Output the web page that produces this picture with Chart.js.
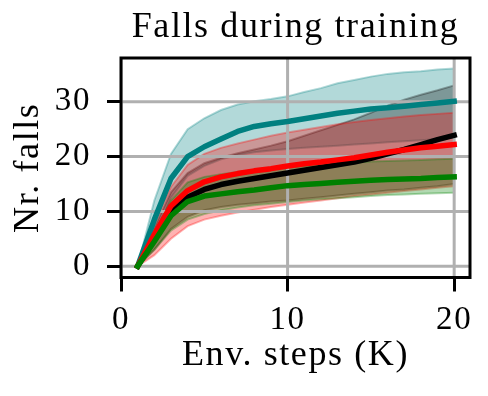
<!DOCTYPE html>
<html>
<head>
<meta charset="utf-8">
<script src="https://cdn.jsdelivr.net/npm/chart.js@4.4.1/dist/chart.umd.min.js"></script>
<style>
  html, body { margin: 0; padding: 0; background: #fff; }
  #c { display: block; }
</style>
</head>
<body>
<canvas id="c" width="488" height="396"></canvas>
<script>
// ---- data ----
const steps = [1, 2, 3, 4, 5, 6, 7, 8, 9, 10, 11, 12, 13, 14, 15, 16, 17, 18, 19, 20];
const xTicks = [0, 10, 20];
const yTicks = [0, 10, 20, 30];

const tealMean  = [0, 8.5, 16, 20, 21.8, 23.2, 24.6, 25.5, 26.0, 26.4, 26.9, 27.4, 27.9, 28.3, 28.7, 28.9, 29.2, 29.5, 29.8, 30.1];
const tealUpper = [0, 12, 20.5, 25, 27, 28.5, 29.5, 30.1, 30.5, 31.0, 31.8, 32.5, 33.4, 34.0, 34.6, 35.1, 35.4, 35.6, 35.9, 36.1];
const tealLower = [0, 5, 12.5, 16.5, 18.3, 19.5, 20.3, 20.8, 21.1, 21.4, 21.6, 21.8, 22.0, 22.2, 22.4, 22.6, 22.8, 23.0, 23.2, 23.5];

const blackMean  = [0, 5, 10, 12.6, 14.0, 14.9, 15.5, 16.0, 16.5, 17.0, 17.5, 18.0, 18.5, 19.0, 19.7, 20.5, 21.3, 22.2, 23.1, 23.9];
const blackUpper = [0, 7, 13.5, 17, 18.8, 19.8, 20.6, 21.3, 22.0, 22.8, 23.8, 24.8, 25.8, 26.8, 28.0, 29.3, 30.4, 31.3, 32.1, 33.0];
const blackLower = [0, 3, 6.8, 9, 10.2, 10.8, 11.2, 11.5, 11.8, 12.0, 12.3, 12.6, 12.9, 13.2, 13.5, 13.8, 14.0, 14.3, 14.6, 15.0];

const redMean  = [0, 5.8, 11, 13.8, 15.4, 16.3, 16.9, 17.4, 17.8, 18.3, 18.7, 19.0, 19.4, 19.8, 20.3, 20.8, 21.2, 21.6, 21.9, 22.2];
const redUpper = [0, 8, 14.5, 18.5, 20.5, 21.6, 22.4, 23.1, 23.8, 24.4, 24.9, 25.4, 25.9, 26.3, 26.7, 27.0, 27.3, 27.6, 27.8, 28.0];
const redLower = [0, 2, 5, 7.3, 8.5, 9.2, 9.8, 10.3, 10.8, 11.2, 11.6, 12.0, 12.4, 12.8, 13.1, 13.4, 13.7, 14.0, 14.3, 14.6];

const greenMean  = [0, 4.5, 9.2, 11.8, 12.8, 13.2, 13.6, 13.9, 14.3, 14.7, 14.9, 15.1, 15.3, 15.5, 15.7, 15.8, 15.9, 16.0, 16.2, 16.3];
const greenUpper = [0, 6, 12, 15.3, 16.3, 16.8, 17.2, 17.5, 17.8, 18.0, 18.3, 18.5, 18.7, 18.9, 19.1, 19.2, 19.3, 19.4, 19.5, 19.6];
const greenLower = [0, 3, 6.5, 8.5, 9.5, 10.2, 10.7, 11.1, 11.4, 11.7, 12.0, 12.2, 12.4, 12.6, 12.8, 13.0, 13.1, 13.2, 13.3, 13.4];

// ---- build datasets ----
const FONT = "'Liberation Serif', 'Times New Roman', serif";
const pts = arr => steps.map((x, i) => ({ x: x, y: arr[i] }));

const series = [
  { rgb: '0,128,128', mean: tealMean,  up: tealUpper,  lo: tealLower,  lineOrder: 3, bandOrder: 13 },
  { rgb: '0,0,0',     mean: blackMean, up: blackUpper, lo: blackLower, lineOrder: 2, bandOrder: 12 },
  { rgb: '255,0,0',   mean: redMean,   up: redUpper,   lo: redLower,   lineOrder: 1, bandOrder: 11 },
  { rgb: '0,128,0',   mean: greenMean, up: greenUpper, lo: greenLower, lineOrder: 0, bandOrder: 10 }
];

const datasets = [];
series.forEach(s => {
  datasets.push({
    data: pts(s.up), order: s.bandOrder, fill: '+1',
    backgroundColor: 'rgba(' + s.rgb + ',0.3)', borderColor: 'rgba(' + s.rgb + ',0.3)',
    borderWidth: 2, pointRadius: 0, tension: 0
  });
  datasets.push({
    data: pts(s.lo), order: s.bandOrder, fill: false,
    borderColor: 'rgba(' + s.rgb + ',0.3)', borderWidth: 2, pointRadius: 0, tension: 0
  });
});
series.forEach(s => {
  datasets.push({
    data: pts(s.mean), order: s.lineOrder, fill: false, isMean: true,
    borderColor: 'rgb(' + s.rgb + ')', borderWidth: 5.5, pointRadius: 0, tension: 0,
    borderJoinStyle: 'round', borderCapStyle: 'square'
  });
});

// grid drawn above the bands but below the lines; full box of spines on top
const frame = {
  id: 'frame',
  beforeDraw(chart) { chart.$gridDone = false; chart.ctx.letterSpacing = '1.6px'; },
  beforeDatasetDraw(chart, args) {
    if (chart.$gridDone) return;
    const ds = chart.data.datasets[args.index];
    if (!ds.isMean) return;
    chart.$gridDone = true;
    const { ctx, chartArea: a, scales: { x, y } } = chart;
    ctx.save();
    ctx.beginPath();
    ctx.rect(a.left, a.top, a.right - a.left, a.bottom - a.top);
    ctx.clip();
    ctx.strokeStyle = '#b0b0b0';
    ctx.lineWidth = 3;
    xTicks.forEach(v => {
      const p = x.getPixelForValue(v);
      ctx.beginPath(); ctx.moveTo(p, a.top); ctx.lineTo(p, a.bottom); ctx.stroke();
    });
    yTicks.forEach(v => {
      const p = y.getPixelForValue(v);
      ctx.beginPath(); ctx.moveTo(a.left, p); ctx.lineTo(a.right, p); ctx.stroke();
    });
    ctx.restore();
  },
  afterDatasetsDraw(chart) {
    const { ctx, chartArea: a } = chart;
    ctx.save();
    ctx.strokeStyle = '#000';
    ctx.lineWidth = 3;
    ctx.strokeRect(a.left, a.top, a.right - a.left, a.bottom - a.top);
    ctx.restore();
  }
};

const tickGrid = {
  drawOnChartArea: false, drawTicks: true, tickLength: 14, tickWidth: 3, tickColor: '#000'
};

new Chart(document.getElementById('c'), {
  type: 'line',
  data: { datasets: datasets },
  options: {
    responsive: false,
    animation: false,
    devicePixelRatio: 1,
    layout: { padding: { left: 0, right: 18, top: 0, bottom: 0 } },
    plugins: {
      legend: { display: false },
      tooltip: { enabled: false },
      title: {
        display: true, fullSize: false, text: 'Falls during training', color: '#000',
        font: { family: FONT, size: 36, weight: 'normal', lineHeight: 1.2 },
        padding: { top: 5.5, bottom: 9.3 }
      }
    },
    scales: {
      x: {
        type: 'linear', min: 0, max: 20.95,
        afterBuildTicks: a => { a.ticks = xTicks.map(v => ({ value: v })); },
        afterFit: s => { s.height = 118.5; },
        grid: tickGrid,
        border: { display: false },
        ticks: { color: '#000', font: { family: FONT, size: 33, lineHeight: 1 }, padding: 12, maxRotation: 0, autoSkip: false },
        title: {
          display: true, text: 'Env. steps (K)', color: '#000',
          font: { family: FONT, size: 36, lineHeight: 1.2 }, padding: { top: 0, bottom: 18.9 }
        }
      },
      y: {
        type: 'linear', min: -2.07, max: 38,
        afterBuildTicks: a => { a.ticks = yTicks.map(v => ({ value: v })); },
        afterFit: s => { s.width = 121; },
        grid: tickGrid,
        border: { display: false },
        ticks: { color: '#000', font: { family: FONT, size: 33, lineHeight: 1 }, padding: 16, autoSkip: false },
        title: {
          display: true, text: 'Nr. falls', color: '#000',
          font: { family: FONT, size: 36, lineHeight: 1.2 }, padding: { top: 7, bottom: 0 }
        }
      }
    }
  },
  plugins: [frame]
});
</script>
</body>
</html>
